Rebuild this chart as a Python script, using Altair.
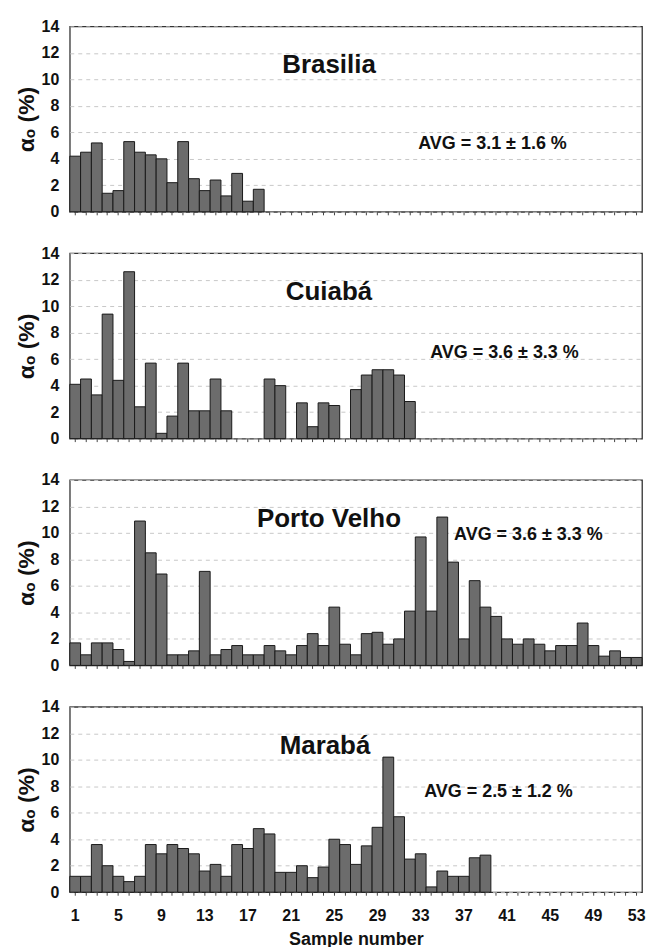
import altair as alt
import pandas as pd

samples = list(range(1, 54))
y_ticks = [0, 2, 4, 6, 8, 10, 12, 14]

cities = ["Brasilia", "Cuiabá", "Porto Velho", "Marabá"]
avg_labels = ["AVG = 3.1 ± 1.6 %", "AVG = 3.6 ± 3.3 %", "AVG = 3.6 ± 3.3 %", "AVG = 2.5 ± 1.2 %"]

brasilia = [4.2, 4.5, 5.2, 1.4, 1.6, 5.3, 4.5, 4.3, 4.0, 2.2, 5.3, 2.5, 1.6, 2.4, 1.2, 2.9, 0.8, 1.7]
cuiaba = [4.1, 4.5, 3.3, 9.4, 4.4, 12.6, 2.4, 5.7, 0.4, 1.7, 5.7, 2.1, 2.1, 4.5, 2.1,
          None, None, None, 4.5, 4.0, None, 2.7, 0.9, 2.7, 2.5, None, 3.7, 4.8, 5.2, 5.2, 4.8, 2.8]
porto_velho = [1.7, 0.8, 1.7, 1.7, 1.2, 0.3, 10.9, 8.5, 6.9, 0.8,
               0.8, 1.1, 7.1, 0.8, 1.2, 1.5, 0.8, 0.8, 1.5, 1.1,
               0.8, 1.5, 2.4, 1.5, 4.4, 1.6, 0.8, 2.4, 2.5, 1.6,
               2.0, 4.1, 9.7, 4.1, 11.2, 7.8, 2.0, 6.4, 4.4, 3.7,
               2.0, 1.6, 2.0, 1.6, 1.1, 1.5, 1.5, 3.2, 1.5, 0.7,
               1.1, 0.6, 0.6]
maraba = [1.2, 1.2, 3.6, 2.0, 1.2, 0.8, 1.2, 3.6, 2.9, 3.6,
          3.3, 2.9, 1.6, 2.1, 1.2, 3.6, 3.3, 4.8, 4.4, 1.5,
          1.5, 2.0, 1.1, 1.9, 4.0, 3.6, 2.1, 3.5, 4.9, 10.2,
          5.7, 2.5, 2.9, 0.4, 1.6, 1.2, 1.2, 2.6, 2.8]

series = [brasilia, cuiaba, porto_velho, maraba]

FONT = "Liberation Sans, Arial, sans-serif"
W, H = 574, 186
# text placements (pixels inside each panel)
city_pos = [(260, 39), (260, 39), (260, 39), (256, 39)]
avg_pos = [(424, 118), (436, 100), (460, 55), (430, 85)]

panels = []
for i, (city, vals) in enumerate(zip(cities, series)):
    df = pd.DataFrame({"sample": samples[:len(vals)], "value": vals})
    last = i == len(cities) - 1
    x_axis = alt.Axis(
        labels=last,
        title="Sample number" if last else None,
        labelExpr="(datum.value - 1) % 4 == 0 ? datum.label : ''",
        labelAngle=0,
        ticks=True,
        tickSize=3,
        tickColor="#444",
        domain=False,
        grid=False,
        labelPadding=12,
        titlePadding=7,
        titleFontSize=18,
    )
    bars = alt.Chart(df).mark_bar(
        fill="#6c6c6c", stroke="#1a1a1a", strokeWidth=1
    ).encode(
        x=alt.X("sample:O", scale=alt.Scale(domain=samples, paddingInner=0, paddingOuter=0), axis=x_axis),
        y=alt.Y("value:Q", scale=alt.Scale(domain=[0, 14], nice=False),
                axis=alt.Axis(values=y_ticks, title="αₒ (%)", grid=True, gridDash=[4, 4],
                              gridColor="#c8c8c8", ticks=False, domain=False,
                              labelPadding=11, titlePadding=3, titleFontSize=23)),
    )
    city_txt = alt.Chart(pd.DataFrame({"t": [city]})).mark_text(
        font=FONT, fontSize=26, fontWeight="bold", color="#111", align="center", baseline="middle"
    ).encode(text="t:N", x=alt.value(city_pos[i][0]), y=alt.value(city_pos[i][1]))
    avg_txt = alt.Chart(pd.DataFrame({"t": [avg_labels[i]]})).mark_text(
        font=FONT, fontSize=18, fontWeight="bold", color="#111", align="center", baseline="middle"
    ).encode(text="t:N", x=alt.value(avg_pos[i][0]), y=alt.value(avg_pos[i][1]))
    panels.append(alt.layer(bars, city_txt, avg_txt).properties(width=W, height=H))

chart = alt.vconcat(*panels, spacing=23.5).properties(
    padding={"left": 14, "top": 16, "right": 4, "bottom": 0}
).configure_view(
    stroke="#333", strokeWidth=1.3
).configure_axis(
    labelFont=FONT, labelFontSize=16, labelFontWeight="bold", labelColor="#111",
    titleFont=FONT, titleFontWeight="bold", titleColor="#111"
)

chart.save("out.html", embed_options={"renderer": "svg", "actions": False})
